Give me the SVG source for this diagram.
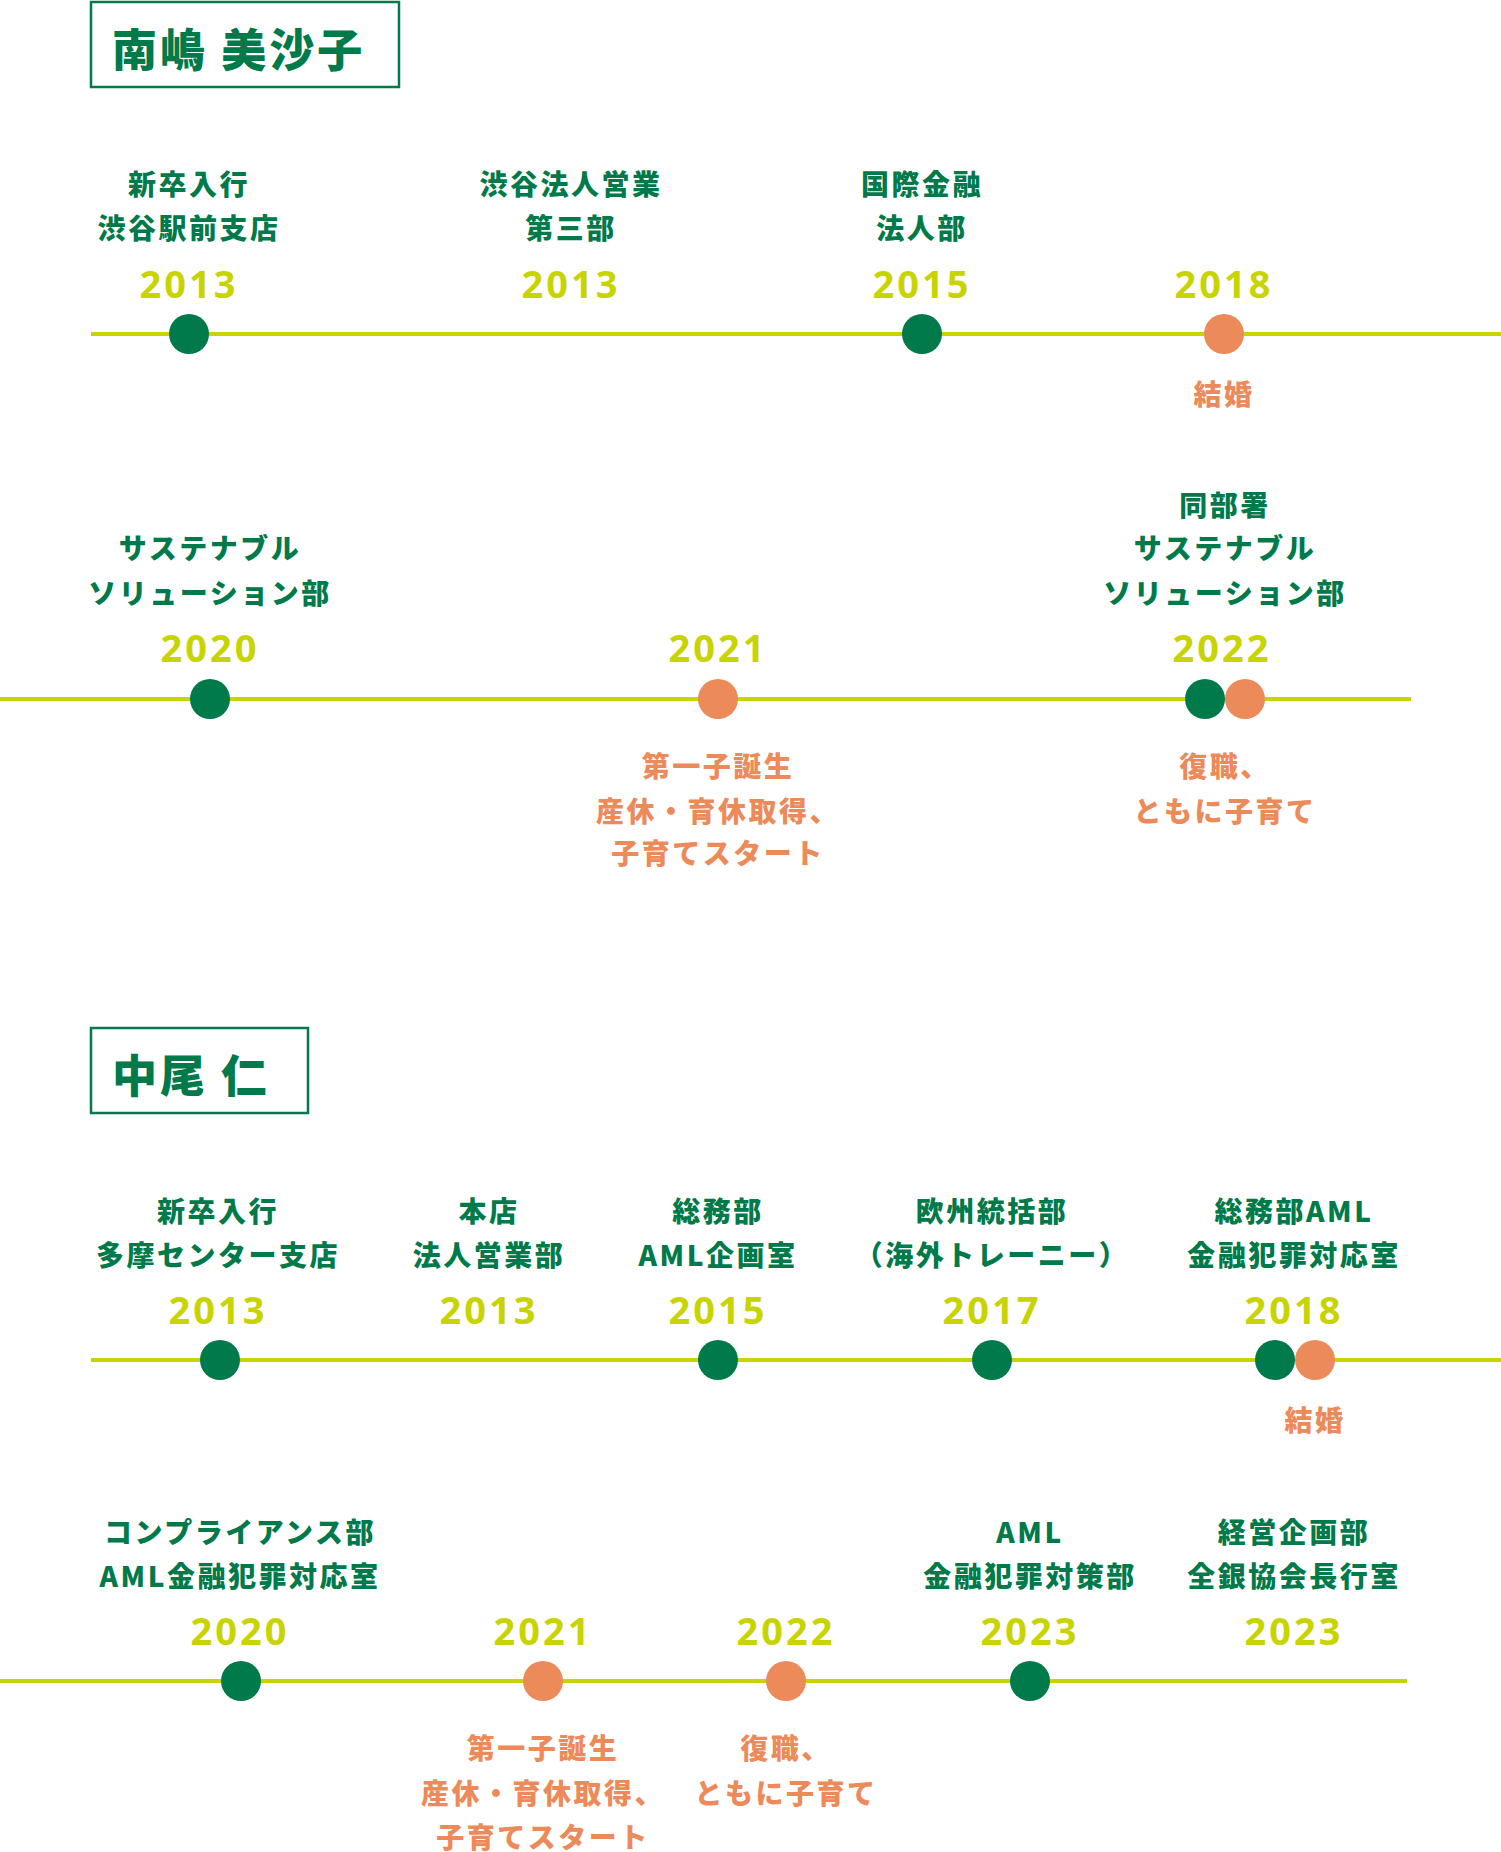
<svg xmlns="http://www.w3.org/2000/svg" width="1501" height="1852" viewBox="0 0 1501 1852">
<style>
text{font-family:"Noto Sans CJK JP","Noto Sans",sans-serif;font-weight:900;text-anchor:middle;dominant-baseline:central}
.l{fill:#007a4a;font-size:28px;letter-spacing:2.5px}
.o{fill:#ec8a5a;font-size:28px;letter-spacing:2.5px}
.y{fill:#c8d400;font-size:38px;letter-spacing:3px;font-family:"Noto Sans",sans-serif;font-weight:bold}
.t{fill:#007a4a;font-size:45px;text-anchor:start;letter-spacing:3px}
.box{fill:none;stroke:#007a4a;stroke-width:2.5}
.line{stroke:#c8d400;stroke-width:4}
.g{fill:#007a4a}.p{fill:#ec8a5a}
</style>
<g id="title1"><rect class="box" x="91" y="2" width="308" height="85"/><text class="t" x="112" y="47">南嶋 美沙子</text></g>
<g id="title2"><rect class="box" x="91" y="1028" width="217" height="85"/><text class="t" x="112" y="1073">中尾 仁</text></g>
<g id="connectors">
<line class="line" x1="91" y1="334" x2="1501" y2="334"/>
<line class="line" x1="0" y1="699" x2="1411" y2="699"/>
<line class="line" x1="91" y1="1360" x2="1501" y2="1360"/>
<line class="line" x1="0" y1="1681" x2="1407" y2="1681"/>
</g>
<g id="r1">
<circle class="g" cx="189" cy="334" r="20"/><circle class="g" cx="922" cy="334" r="20"/><circle class="p" cx="1224" cy="334" r="20"/>
<text class="l" x="189" y="183">新卒入行</text><text class="l" x="189" y="227">渋谷駅前支店</text><text class="y" x="189" y="283">2013</text>
<text class="l" x="571" y="183">渋谷法人営業</text><text class="l" x="571" y="227">第三部</text><text class="y" x="571" y="283">2013</text>
<text class="l" x="922" y="183">国際金融</text><text class="l" x="922" y="227">法人部</text><text class="y" x="922" y="283">2015</text>
<text class="y" x="1224" y="283">2018</text><text class="o" x="1224" y="393">結婚</text>
</g>
<g id="r2">
<circle class="g" cx="210" cy="699" r="20"/><circle class="p" cx="718" cy="699" r="20"/><circle class="g" cx="1205" cy="699" r="20"/><circle class="p" cx="1245" cy="699" r="20"/>
<text class="l" x="210" y="547">サステナブル</text><text class="l" x="210" y="592">ソリューション部</text><text class="y" x="210" y="647">2020</text>
<text class="y" x="718" y="647">2021</text><text class="o" x="718" y="765">第一子誕生</text><text class="o" x="718" y="810">産休・育休取得、</text><text class="o" x="718" y="852">子育てスタート</text>
<text class="l" x="1225" y="504">同部署</text><text class="l" x="1225" y="547">サステナブル</text><text class="l" x="1225" y="592">ソリューション部</text><text class="y" x="1222" y="647">2022</text>
<text class="o" x="1225" y="765">復職、</text><text class="o" x="1225" y="810">ともに子育て</text>
</g>
<g id="r3">
<circle class="g" cx="220" cy="1360" r="20"/><circle class="g" cx="718" cy="1360" r="20"/><circle class="g" cx="992" cy="1360" r="20"/><circle class="g" cx="1275" cy="1360" r="20"/><circle class="p" cx="1315" cy="1360" r="20"/>
<text class="l" x="218" y="1210">新卒入行</text><text class="l" x="218" y="1254">多摩センター支店</text><text class="y" x="218" y="1309">2013</text>
<text class="l" x="489" y="1210">本店</text><text class="l" x="489" y="1254">法人営業部</text><text class="y" x="489" y="1309">2013</text>
<text class="l" x="718" y="1210">総務部</text><text class="l" x="718" y="1254">AML企画室</text><text class="y" x="718" y="1309">2015</text>
<text class="l" x="992" y="1210">欧州統括部</text><text class="l" x="992" y="1254">（海外トレーニー）</text><text class="y" x="992" y="1309">2017</text>
<text class="l" x="1294" y="1210">総務部AML</text><text class="l" x="1294" y="1254">金融犯罪対応室</text><text class="y" x="1294" y="1309">2018</text>
<text class="o" x="1315" y="1419">結婚</text>
</g>
<g id="r4">
<circle class="g" cx="241" cy="1681" r="20"/><circle class="p" cx="543" cy="1681" r="20"/><circle class="p" cx="786" cy="1681" r="20"/><circle class="g" cx="1030" cy="1681" r="20"/>
<text class="l" x="240" y="1531">コンプライアンス部</text><text class="l" x="240" y="1575">AML金融犯罪対応室</text><text class="y" x="240" y="1630">2020</text>
<text class="y" x="543" y="1630">2021</text><text class="o" x="543" y="1747">第一子誕生</text><text class="o" x="543" y="1792">産休・育休取得、</text><text class="o" x="543" y="1836">子育てスタート</text>
<text class="y" x="786" y="1630">2022</text><text class="o" x="786" y="1747">復職、</text><text class="o" x="786" y="1792">ともに子育て</text>
<text class="l" x="1030" y="1531">AML</text><text class="l" x="1030" y="1575">金融犯罪対策部</text><text class="y" x="1030" y="1630">2023</text>
<text class="l" x="1294" y="1531">経営企画部</text><text class="l" x="1294" y="1575">全銀協会長行室</text><text class="y" x="1294" y="1630">2023</text>
</g>
</svg>
